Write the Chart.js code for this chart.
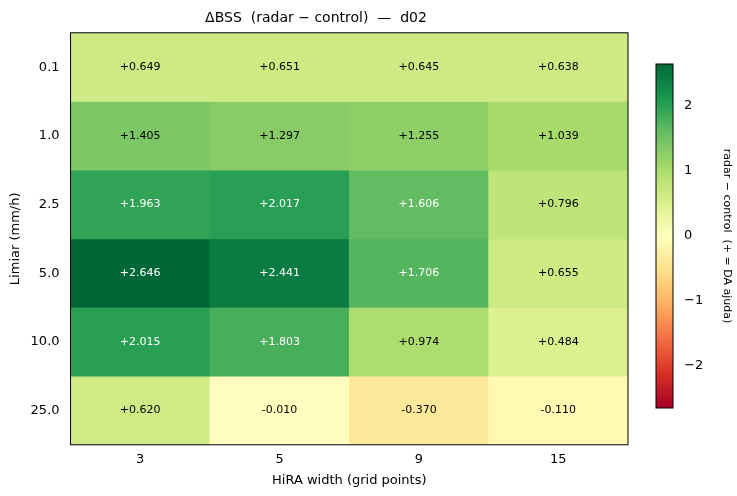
<!DOCTYPE html>
<html>
<head>
<meta charset="utf-8">
<script src="https://cdn.jsdelivr.net/npm/chart.js@4"></script>
<style>
  body { margin: 0; background: #fff; }
  #wrap { position: relative; width: 737px; height: 496px; }
  #main { position: absolute; left: 0; top: 0; }
  #cbar { position: absolute; left: 640px; top: 0; }
</style>
</head>
<body>
<div id="wrap">
  <canvas id="main" width="737" height="496"></canvas>
  <canvas id="cbar" width="97" height="496"></canvas>
</div>
<script>
"use strict";

var widths     = ["3", "5", "9", "15"];
var thresholds = ["0.1", "1.0", "2.5", "5.0", "10.0", "25.0"];
var deltaBss   = [
    [0.649, 0.651, 0.645, 0.638],
    [1.405, 1.297, 1.255, 1.039],
    [1.963, 2.017, 1.606, 0.796],
    [2.646, 2.441, 1.706, 0.655],
    [2.015, 1.803, 0.974, 0.484],
    [0.620, -0.010, -0.370, -0.110]
];
var cbarTicks = [-2, -1, 0, 1, 2];
var vmax = 2.646;

var FONT = "'DejaVu Sans', sans-serif";
var stops = ["#a50026", "#d73027", "#f46d43", "#fdae61", "#fee08b", "#ffffbf",
             "#d9ef8b", "#a6d96a", "#66bd63", "#1a9850", "#006837"];

function hex(h) { return [1, 3, 5].map(function (i) { return parseInt(h.substr(i, 2), 16); }); }

function rdYlGn(v)
{
    var t = Math.max(0, Math.min(1, (v + vmax) / (2 * vmax))) * (stops.length - 1);
    var i = Math.min(Math.floor(t), stops.length - 2);
    var f = t - i;
    var a = hex(stops[i]), b = hex(stops[i + 1]);
    var c = a.map(function (x, k) { return Math.round(x + (b[k] - x) * f); });
    return "rgb(" + c.join(",") + ")";
}

function minus(s) { return s.replace("-", "\u2212"); }

var datasets = thresholds.map(function (th, r) {
    return {
        label: th,
        data: widths.map(function () { return 1; }),
        backgroundColor: deltaBss[r].map(rdYlGn),
        borderWidth: 0,
        categoryPercentage: 1,
        barPercentage: 1
    };
});

var cellLabels = {
    id: "cellLabels",
    afterDatasetsDraw: function (chart)
    {
        var ctx = chart.ctx;
        ctx.save();
        ctx.font = "11px " + FONT;
        ctx.textAlign = "center";
        ctx.textBaseline = "middle";
        chart.data.datasets.forEach(function (ds, r) {
            chart.getDatasetMeta(r).data.forEach(function (bar, c) {
                var v = deltaBss[r][c];
                var txt = (v > 0 ? "+" : "") + v.toFixed(3);
                ctx.fillStyle = v > 1.45 ? "#ffffff" : "#000000";
                var y = (bar.y + bar.base) / 2;
                ctx.fillText(txt, bar.x, y);
            });
        });
        ctx.strokeStyle = "#000";
        ctx.lineWidth = 1;
        var a = chart.chartArea;
        ctx.strokeRect(a.left, a.top, a.right - a.left, a.bottom - a.top);
        ctx.restore();
    }
};

new Chart(document.getElementById("main"), {
    type: "bar",
    data: { labels: widths, datasets: datasets },
    plugins: [cellLabels],
    options: {
        responsive: false,
        animation: false,
        layout: { padding: { left: 4, right: 109, top: 4, bottom: 4 } },
        plugins: {
            legend: { display: false },
            tooltip: { enabled: false },
            title: {
                display: true,
                text: "\u0394BSS  (radar \u2212 control)  \u2014  d02",
                color: "#000",
                font: { family: FONT, size: 14, weight: "normal" },
                padding: { top: 6, bottom: 6 }
            }
        },
        scales: {
            x: {
                stacked: true,
                grid: { display: false, drawTicks: true, tickLength: 4, color: "#000" },
                border: { display: false },
                ticks: { color: "#000", font: { family: FONT, size: 13 } },
                title: { display: true, text: "HiRA width (grid points)", color: "#000",
                         font: { family: FONT, size: 13 }, padding: { top: 2 } }
            },
            y: {
                stacked: true,
                reverse: true,
                min: 0,
                max: 6,
                afterBuildTicks: function (scale) {
                    scale.ticks = thresholds.map(function (t, i) { return { value: i + 0.5 }; });
                },
                grid: { display: false },
                border: { display: false },
                ticks: {
                    color: "#000",
                    font: { family: FONT, size: 13 },
                    callback: function (v) { return thresholds[Math.floor(v)]; }
                },
                title: { display: true, text: "Limiar (mm/h)", color: "#000",
                         font: { family: FONT, size: 13 } }
            }
        }
    }
});

var cbarOutline = {
    id: "cbarOutline",
    afterDatasetsDraw: function (chart)
    {
        var a = chart.chartArea, ctx = chart.ctx;
        ctx.save();
        ctx.strokeStyle = "#000";
        ctx.lineWidth = 1;
        ctx.strokeRect(a.left, a.top, a.right - a.left, a.bottom - a.top);
        ctx.restore();
    }
};

new Chart(document.getElementById("cbar"), {
    type: "bar",
    data: {
        labels: [""],
        datasets: [{
            data: [[-vmax, vmax]],
            borderWidth: 0,
            categoryPercentage: 1,
            barPercentage: 1,
            backgroundColor: function (c) {
                var a = c.chart.chartArea;
                if (!a) { return "#ffffbf"; }
                var g = c.chart.ctx.createLinearGradient(0, a.bottom, 0, a.top);
                stops.forEach(function (s, i) { g.addColorStop(i / (stops.length - 1), s); });
                return g;
            }
        }]
    },
    plugins: [cbarOutline],
    options: {
        responsive: false,
        animation: false,
        layout: { padding: { left: 16, top: 64, bottom: 88, right: 0 } },
        plugins: { legend: { display: false }, tooltip: { enabled: false } },
        scales: {
            x: { display: false },
            y: {
                position: "right",
                min: -vmax,
                max: vmax,
                afterBuildTicks: function (scale) {
                    scale.ticks = cbarTicks.map(function (v) { return { value: v }; });
                },
                afterFit: function (scale) { scale.width = 64; },
                grid: { display: false, drawOnChartArea: false },
                border: { display: false },
                ticks: {
                    color: "#000",
                    font: { family: FONT, size: 13 },
                    callback: function (v) { return minus(String(v)); }
                },
                title: { display: true, text: "radar \u2212 control  (+ = DA ajuda)", color: "#000",
                         font: { family: FONT, size: 11 } }
            }
        }
    }
});
</script>
</body>
</html>
